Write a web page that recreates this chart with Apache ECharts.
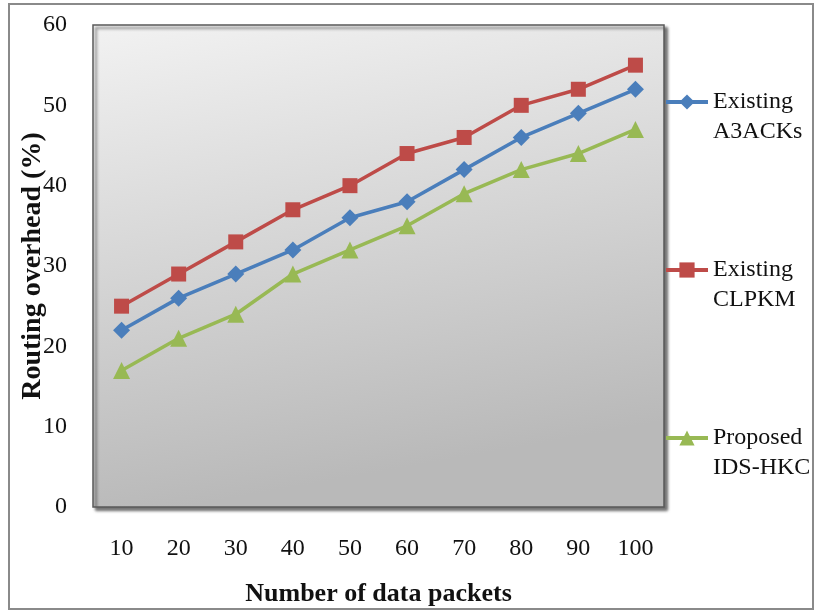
<!DOCTYPE html>
<html>
<head>
<meta charset="utf-8">
<script src="https://cdn.jsdelivr.net/npm/echarts@6/dist/echarts.min.js"></script>
<style>
html,body{margin:0;padding:0;background:#fff;}
#chart{width:820px;height:612px;}
</style>
</head>
<body>
<div id="chart"></div>
<script>
var categories = ['10','20','30','40','50','60','70','80','90','100'];
var seriesNames = ['Existing A3ACKs','Existing CLPKM','Proposed IDS-HKC'];
var legendLines = {
  'Existing A3ACKs': ['Existing','A3ACKs'],
  'Existing CLPKM': ['Existing','CLPKM'],
  'Proposed IDS-HKC': ['Proposed','IDS-HKC']
};
var a3acks = [22,26,29,32,36,38,42,46,49,52];
var clpkm  = [25,29,33,37,40,44,46,50,52,55];
var idshkc = [17,21,24,29,32,35,39,42,44,47];
var yTicks = [0,10,20,30,40,50,60];

var colors = ['#4a7ebb','#be4b48','#98b954'];
var symbols = ['diamond','rect','triangle'];
var symbolSizes = [17,15,17];
var dataSets = [a3acks, clpkm, idshkc];

var FONT = '"Liberation Serif","Times New Roman",serif';

var chart = echarts.init(document.getElementById('chart'));
var option = {
  animation: false,
  backgroundColor: '#ffffff',
  textStyle: {fontFamily: FONT},
  grid: {
    left: 93, top: 25, right: 156, bottom: 105,
    outerBoundsMode: 'none',
    containLabel: false,
    show: true,
    borderColor: '#5a5a5a',
    borderWidth: 1.5,
    backgroundColor: new echarts.graphic.LinearGradient(0,0,0.15,1,[
      {offset:0,color:'#f2f2f2'},
      {offset:1,color:'#b9b9b9'}
    ]),
    shadowColor: 'rgba(0,0,0,0.55)',
    shadowBlur: 3,
    shadowOffsetX: 3,
    shadowOffsetY: 3
  },
  legend: {
    orient: 'vertical',
    left: 664,
    top: 57,
    padding: 0,
    itemGap: 78,
    itemWidth: 42,
    itemHeight: 19,
    data: seriesNames,
    lineStyle: {width: 4},
    formatter: function(name){ return '\n' + legendLines[name].join('\n'); },
    textStyle: {fontFamily: FONT, fontSize: 24, color: '#111', lineHeight: 30}
  },
  xAxis: {
    type: 'category',
    data: categories,
    boundaryGap: true,
    name: 'Number of data packets',
    nameLocation: 'middle',
    nameGap: 74,
    nameMoveOverlap: false,
    nameTextStyle: {fontFamily: FONT, fontSize: 26, fontWeight: 'bold', color: '#111'},
    axisLine: {show: false},
    axisTick: {show: false},
    axisLabel: {fontFamily: FONT, fontSize: 24, color: '#111', margin: 30},
    splitLine: {show: false}
  },
  yAxis: {
    type: 'value',
    min: 0, max: 60, interval: 10,
    name: 'Routing overhead (%)',
    nameLocation: 'middle',
    nameGap: 46,
    nameMoveOverlap: false,
    nameRotate: 90,
    nameTextStyle: {fontFamily: FONT, fontSize: 28, fontWeight: 'bold', color: '#111'},
    axisLine: {show: false},
    axisTick: {show: false},
    axisLabel: {fontFamily: FONT, fontSize: 24, color: '#111', margin: 26,
      formatter: function(v){ return yTicks.indexOf(v) >= 0 ? String(v) : ''; }},
    splitLine: {show: false}
  },
  graphic: [{
    type: 'rect',
    shape: {x: 9, y: 4, width: 804, height: 605},
    style: {fill: 'none', stroke: '#8a8a8a', lineWidth: 2},
    silent: true, z: 100
  }],
  series: seriesNames.map(function(n, i){
    return {
      name: n,
      type: 'line',
      data: dataSets[i],
      symbol: symbols[i],
      symbolSize: symbolSizes[i],
      lineStyle: {color: colors[i], width: 3.5},
      itemStyle: {color: colors[i]},
      z: 3 - i + 2
    };
  })
};
chart.setOption(option);
</script>
</body>
</html>
